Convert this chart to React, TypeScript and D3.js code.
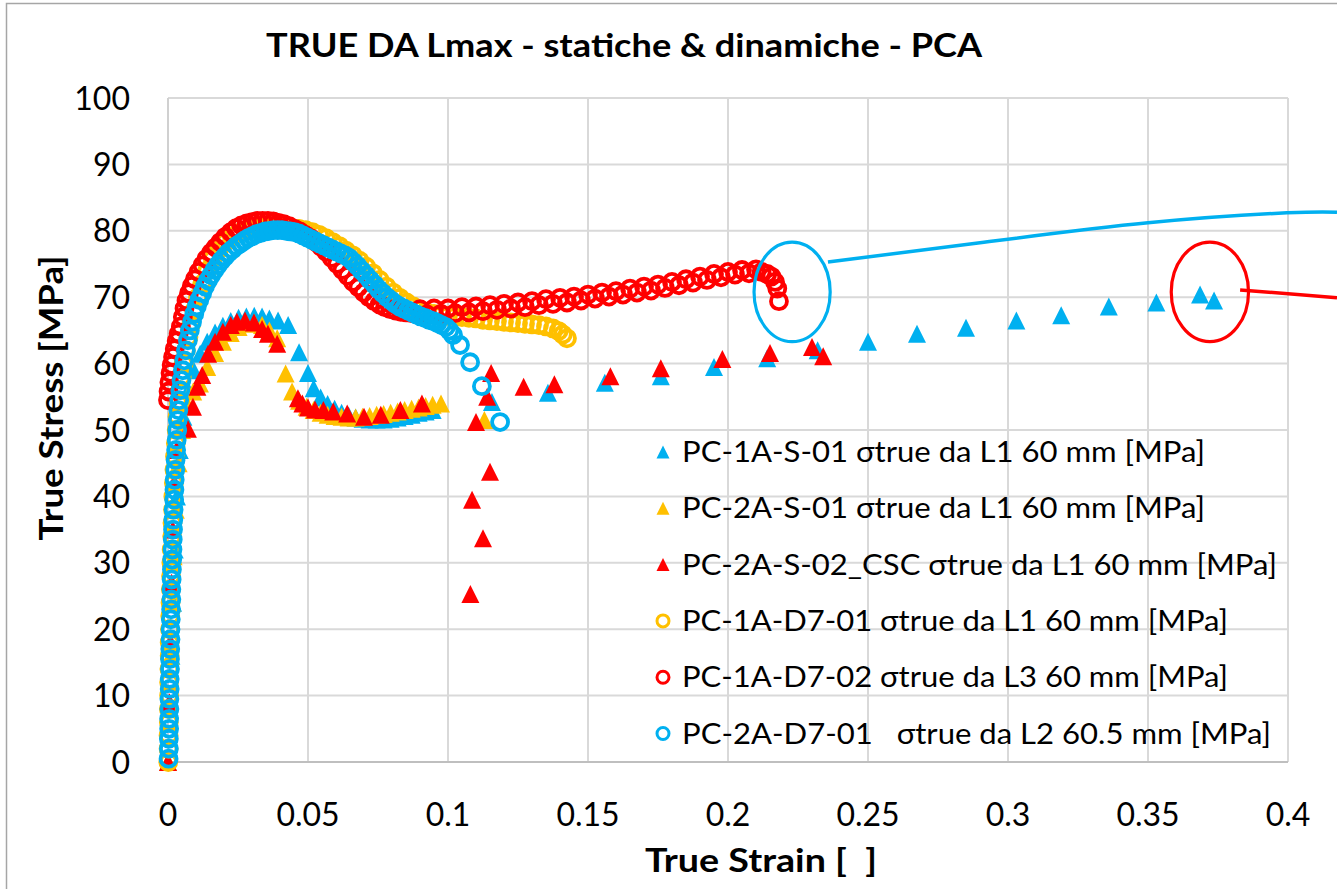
import React from 'react';
import * as d3 from 'd3';

const xTicks = [0, 0.05, 0.1, 0.15, 0.2, 0.25, 0.3, 0.35, 0.4];
const xTickLabels = ['0', '0.05', '0.1', '0.15', '0.2', '0.25', '0.3', '0.35', '0.4'];
const yTicks = [0, 10, 20, 30, 40, 50, 60, 70, 80, 90, 100];
const yTickLabels = ['0', '10', '20', '30', '40', '50', '60', '70', '80', '90', '100'];

// PC-1A-S-01 (static, blue triangles)
const s1: [number, number][] = [
  [0, 0], [0.0006, 8], [0.0012, 16], [0.0018, 24], [0.0024, 32], [0.0032, 40], [0.0042, 47], [0.0055, 52],
  [0.0072, 56], [0.0092, 59], [0.0115, 61.5], [0.014, 63.3], [0.0168, 64.7], [0.0196, 65.7], [0.0224, 66.4],
  [0.0252, 66.9], [0.028, 67.1], [0.0308, 67.2], [0.0336, 67.1], [0.0362, 66.8], [0.0393, 66.5], [0.0429, 65.8],
  [0.0468, 61.7], [0.05, 58.6], [0.052, 56.3], [0.0545, 54.9], [0.057, 53.9], [0.0595, 53.2], [0.062, 52.6],
  [0.0645, 52.2], [0.067, 51.9], [0.0695, 51.7], [0.072, 51.6], [0.0745, 51.6], [0.077, 51.6], [0.0795, 51.7],
  [0.082, 51.9], [0.0845, 52.1], [0.087, 52.3], [0.0895, 52.6], [0.092, 52.8], [0.0945, 53.0],
  [0.1157, 54.2], [0.1357, 55.6], [0.156, 57.1], [0.176, 58.1], [0.195, 59.5], [0.214, 60.8], [0.232, 62.0],
  [0.25, 63.3], [0.2675, 64.5], [0.285, 65.4], [0.303, 66.5], [0.319, 67.3], [0.336, 68.6], [0.353, 69.2],
  [0.3686, 70.4], [0.3736, 69.5],
];

// PC-2A-S-01 (static, gold triangles)
const s2: [number, number][] = [
  [0, 0], [0.0005, 8], [0.001, 16], [0.0015, 24], [0.002, 31], [0.0028, 38], [0.0038, 45], [0.005, 50],
  [0.0068, 54], [0.009, 55.8], [0.0114, 57], [0.014, 59.5], [0.0168, 61.6], [0.0196, 63.3], [0.0224, 64.6],
  [0.0252, 65.5], [0.028, 66.0], [0.0308, 66.1], [0.0336, 65.8], [0.0362, 65.0], [0.039, 63.8], [0.042, 58.5],
  [0.0443, 55.8], [0.0468, 54.4], [0.0495, 53.5], [0.052, 53.0], [0.0545, 52.6], [0.057, 52.3], [0.0595, 52.1],
  [0.062, 52.0], [0.0645, 51.9], [0.067, 51.9], [0.0695, 52.0], [0.072, 52.1], [0.0745, 52.3], [0.077, 52.4],
  [0.0795, 52.6], [0.082, 52.8], [0.0845, 53.0], [0.087, 53.2], [0.0895, 53.4], [0.092, 53.6], [0.0945, 53.8],
  [0.0975, 54.0], [0.113, 51.5],
];

// PC-2A-S-02_CSC (static, red triangles)
const s3: [number, number][] = [
  [0, 0], [0.0005, 9], [0.0009, 18], [0.0013, 27], [0.0017, 35], [0.0022, 42], [0.003, 47], [0.0071, 50.2],
  [0.0089, 53.5], [0.0105, 56.5], [0.0122, 58.3], [0.0143, 61.5], [0.0168, 63.3], [0.0196, 64.8], [0.0224, 65.8],
  [0.0246, 66.3], [0.0275, 66.5], [0.0307, 66.2], [0.0336, 65.2], [0.0357, 64.5], [0.039, 63.0], [0.0464, 54.8],
  [0.048, 54.0], [0.05, 53.4], [0.0525, 53.1], [0.0555, 53.0], [0.059, 52.8], [0.064, 52.5], [0.07, 52.0],
  [0.076, 52.3], [0.083, 53.0], [0.0907, 54.0],
  [0.1154, 58.6], [0.114, 55.0], [0.11, 51.2], [0.115, 43.7], [0.1086, 39.5], [0.1125, 33.7], [0.108, 25.3],
  [0.127, 56.5], [0.138, 56.9], [0.158, 58.1], [0.176, 59.3], [0.198, 60.7], [0.215, 61.6], [0.23, 62.5],
  [0.234, 61.1],
];

// PC-1A-D7-01 (dynamic, gold circles)
const d1: [number, number][] = [
  [0.0001, 0], [0.0002, 2], [0.0002, 4], [0.0003, 6], [0.0003, 8], [0.0004, 10], [0.0004, 12], [0.0005, 14],
  [0.0006, 16], [0.0006, 18], [0.0007, 20], [0.0008, 22], [0.0009, 24], [0.001, 26], [0.0011, 28], [0.0012, 30],
  [0.0013, 32], [0.0015, 34], [0.0016, 36], [0.0018, 38], [0.0019, 40], [0.0021, 42], [0.0023, 44], [0.0025, 46],
  [0.0028, 48], [0.0031, 50], [0.0034, 52], [0.0038, 54], [0.0043, 56], [0.0049, 58], [0.0056, 60], [0.0064, 62],
  [0.0073, 64], [0.0083, 66], [0.0094, 68], [0.0107, 70], [0.0122, 72], [0.014, 74], [0.016, 75.8], [0.0182, 77.2],
  [0.0205, 78.3], [0.0228, 79.1], [0.0252, 79.7], [0.0276, 80.1], [0.03, 80.3], [0.0324, 80.4], [0.0348, 80.5],
  [0.0372, 80.5], [0.0396, 80.5], [0.042, 80.5], [0.0444, 80.4], [0.0468, 80.3], [0.0492, 80.1], [0.0516, 79.8],
  [0.054, 79.4], [0.0564, 78.9], [0.0588, 78.3], [0.0612, 77.7], [0.0636, 77.0], [0.066, 76.3], [0.0684, 75.5],
  [0.0708, 74.6], [0.0732, 73.6], [0.0756, 72.6], [0.078, 71.6], [0.0804, 70.7], [0.0828, 69.9], [0.0852, 69.2],
  [0.0876, 68.6], [0.09, 68.1], [0.0925, 67.7], [0.095, 67.5], [0.0975, 67.3], [0.1, 67.2], [0.1025, 67.1],
  [0.105, 67.0], [0.1075, 66.9], [0.11, 66.8], [0.1125, 66.6], [0.115, 66.5], [0.1175, 66.4], [0.12, 66.3],
  [0.1225, 66.2], [0.125, 66.1], [0.1275, 66.0], [0.13, 65.9], [0.1325, 65.8], [0.135, 65.6], [0.1375, 65.3],
  [0.1395, 64.9], [0.141, 64.4], [0.1425, 63.8],
];

// PC-1A-D7-02 (dynamic, red circles)
const d2: [number, number][] = [
  [0, 54.5], [0.0002, 55.8], [0.0005, 57.2], [0.0009, 58.6], [0.0013, 59.8], [0.0018, 61], [0.0024, 62.2],
  [0.0031, 63.4], [0.0038, 64.5], [0.0046, 65.6], [0.0053, 67], [0.0059, 68.3], [0.0066, 69.5], [0.0075, 70.6],
  [0.0085, 71.7], [0.0096, 72.7], [0.0109, 73.8], [0.0123, 74.8], [0.0138, 75.8], [0.0154, 76.7], [0.017, 77.5],
  [0.0187, 78.3], [0.0205, 79.1], [0.0224, 79.8], [0.0243, 80.4], [0.0262, 80.8], [0.0281, 81.1], [0.03, 81.3],
  [0.0319, 81.5], [0.0338, 81.5], [0.0357, 81.5], [0.0376, 81.4], [0.0395, 81.2], [0.0414, 81.0], [0.0433, 80.7],
  [0.0452, 80.3], [0.0471, 79.9], [0.049, 79.4], [0.0509, 78.9], [0.0528, 78.3], [0.0547, 77.6], [0.0566, 76.8],
  [0.0585, 75.9], [0.0604, 75.0], [0.0623, 74.1], [0.0642, 73.2], [0.0661, 72.3], [0.068, 71.5], [0.0699, 70.7],
  [0.0718, 70.0], [0.0737, 69.4], [0.0756, 68.9], [0.0775, 68.5], [0.0794, 68.2], [0.0813, 68.0], [0.0832, 67.8],
  [0.0851, 67.7], [0.087, 67.6], [0.09, 68.2], [0.0925, 67.4], [0.095, 68.3], [0.0975, 67.5], [0.1, 68.3],
  [0.1025, 67.6], [0.105, 68.5], [0.1075, 67.7], [0.11, 68.6], [0.1125, 67.9], [0.115, 68.8], [0.1175, 68.1],
  [0.12, 69.0], [0.1225, 68.3], [0.125, 69.2], [0.1275, 68.5], [0.13, 69.4], [0.1325, 68.8], [0.135, 69.7],
  [0.1375, 69.0], [0.14, 69.9], [0.1425, 69.2], [0.145, 70.1], [0.1475, 69.5], [0.15, 70.4], [0.1525, 69.8],
  [0.155, 70.7], [0.1575, 70.1], [0.16, 70.9], [0.1625, 70.4], [0.165, 71.3], [0.1675, 70.7], [0.17, 71.6],
  [0.1725, 71.0], [0.175, 71.9], [0.1775, 71.4], [0.18, 72.3], [0.1825, 71.8], [0.185, 72.7], [0.1875, 72.2],
  [0.19, 73.1], [0.1925, 72.6], [0.195, 73.5], [0.1975, 73.0], [0.2, 73.8], [0.2025, 73.4], [0.205, 74.1],
  [0.2075, 73.6], [0.21, 74.2], [0.212, 73.8], [0.214, 73.5], [0.2155, 73.1], [0.2168, 72.3], [0.2176, 71.3],
  [0.2182, 69.4],
];

// PC-2A-D7-01 (dynamic, blue circles)
const d3s: [number, number][] = [
  [0.0002, 0.5], [0.0003, 2], [0.0003, 3.5], [0.0004, 5], [0.0004, 6.5], [0.0005, 8], [0.0005, 9.5], [0.0006, 11],
  [0.0006, 12.5], [0.0007, 14], [0.0007, 15.5], [0.0008, 17], [0.0009, 18.5], [0.0009, 20], [0.001, 21.5],
  [0.0011, 23], [0.0012, 24.5], [0.0012, 26], [0.0013, 27.5], [0.0014, 29], [0.0015, 30.5], [0.0016, 32],
  [0.0017, 33.5], [0.0018, 35], [0.0019, 36.5], [0.002, 38], [0.0022, 39.5], [0.0023, 41], [0.0024, 42.5],
  [0.0026, 44], [0.0027, 45.5], [0.0029, 47], [0.0031, 48.5], [0.0033, 50], [0.0035, 51.5], [0.0037, 53],
  [0.004, 54.5], [0.0044, 56], [0.0048, 57.5], [0.0053, 59], [0.0058, 60.5], [0.0064, 62], [0.0071, 63.5],
  [0.0078, 65], [0.0086, 66.3], [0.0094, 67.5], [0.0103, 68.6], [0.0112, 69.6], [0.0122, 70.6], [0.0132, 71.6],
  [0.0143, 72.5], [0.0154, 73.3], [0.0166, 74.1], [0.0178, 74.8], [0.019, 75.5], [0.0203, 76.1], [0.0216, 76.7],
  [0.023, 77.2], [0.0244, 77.7], [0.0258, 78.1], [0.0272, 78.5], [0.0287, 78.9], [0.0302, 79.2], [0.0317, 79.5],
  [0.0332, 79.7], [0.0347, 79.9], [0.0362, 80.0], [0.0377, 80.1], [0.0392, 80.1], [0.0407, 80.1], [0.0422, 80.0],
  [0.0437, 79.9], [0.0452, 79.8], [0.0467, 79.6], [0.0482, 79.3], [0.0497, 79.0], [0.0512, 78.7], [0.0527, 78.4],
  [0.0542, 78.1], [0.0557, 77.8], [0.0572, 77.5], [0.0587, 77.2], [0.0602, 76.9], [0.0617, 76.6], [0.0632, 76.3],
  [0.0647, 75.9], [0.0662, 75.3], [0.0677, 74.7], [0.0692, 74.0], [0.0707, 73.3], [0.0722, 72.6], [0.0737, 71.9],
  [0.0752, 71.2], [0.0767, 70.6], [0.0782, 70.0], [0.0797, 69.5], [0.0812, 69.0], [0.0827, 68.6], [0.0842, 68.3],
  [0.0857, 68.0], [0.0872, 67.7], [0.0887, 67.4], [0.0902, 67.1], [0.0917, 66.9], [0.0932, 66.6], [0.0947, 66.4],
  [0.0962, 66.1], [0.0977, 65.8], [0.0992, 65.5], [0.1005, 65.0], [0.1018, 64.3], [0.1043, 62.8], [0.1079, 60.2],
  [0.1121, 56.6], [0.1186, 51.2],
];

const seriesData = [s1, s2, s3, d1, d2, d3s];
const seriesNames = [
  'PC-1A-S-01 σtrue da L1 60 mm [MPa]',
  'PC-2A-S-01 σtrue da L1 60 mm [MPa]',
  'PC-2A-S-02_CSC σtrue da L1 60 mm [MPa]',
  'PC-1A-D7-01 σtrue da L1 60 mm [MPa]',
  'PC-1A-D7-02 σtrue da L3 60 mm [MPa]',
  'PC-2A-D7-01   σtrue da L2 60.5 mm [MPa]',
];
const seriesColors = ['#00B0F0', '#FFC000', '#FF0000', '#FFC000', '#FF0000', '#00B0F0'];
const seriesMarkers = ['tri', 'tri', 'tri', 'circ', 'circ', 'circ'];
const legendWidths = [523, 523, 595, 546, 546, 589];

// annotation shapes (data units)
const blueEllipse = { cx: 0.2229, cy: 70.8, rx: 0.0136, ry: 7.5 };
const redEllipse = { cx: 0.3721, cy: 70.8, rx: 0.0138, ry: 7.5 };
const blueCallout: [number, number][] = [[0.2357, 75.3], [0.29, 78.2], [0.35, 81.2], [0.3996, 82.7], [0.4175, 82.8]];
const redCallout: [number, number][] = [[0.3829, 71.1], [0.4175, 69.9]];

const FONT = 'Lato, "Open Sans", "DejaVu Sans", sans-serif';

const triPath = (s: number) => `M0,${-s / 2}L${s / 2},${s / 2}L${-s / 2},${s / 2}Z`;

export default function App() {
  const W = 1337;
  const H = 889;
  const x = d3.scaleLinear().domain([0, 0.4]).range([168, 1288]);
  const y = d3.scaleLinear().domain([0, 100]).range([762, 98]);
  const [x0, x1] = x.range();
  const [y0, y1] = y.range();

  const calloutLine = d3.line<[number, number]>().x((d) => x(d[0])).y((d) => y(d[1])).curve(d3.curveNatural);
  const straight = d3.line<[number, number]>().x((d) => x(d[0])).y((d) => y(d[1]));

  const legendX = 663;
  const legendTextX = 682;
  const legendBase0 = 462;
  const legendStep = 56.3;

  return (
    <svg width={W} height={H} style={{ position: 'absolute', left: 0, top: 0, background: '#fff' }} fontFamily={FONT}>
      <rect x={0} y={0} width={W} height={H} fill="#fff" />
      <rect x={6.5} y={3.5} width={W + 50} height={H + 50} fill="none" stroke="#A6A6A6" strokeWidth={1.5} />

      {/* gridlines */}
      {yTicks.map((t) => (
        <line key={'gy' + t} x1={x0} x2={x1} y1={y(t)} y2={y(t)} stroke="#D9D9D9" strokeWidth={2} />
      ))}
      {xTicks.map((t) => (
        <line key={'gx' + t} x1={x(t)} x2={x(t)} y1={y0} y2={y1} stroke="#D9D9D9" strokeWidth={2} />
      ))}
      <line x1={x0} x2={x1} y1={y(0)} y2={y(0)} stroke="#BFBFBF" strokeWidth={2} />
      <line x1={x(0)} x2={x(0)} y1={y0} y2={y1} stroke="#D0D0D0" strokeWidth={2} />

      {/* tick labels */}
      {yTicks.map((t, i) => (
        <text key={'ty' + t} x={130} y={y(t)} dy="0.36em" textAnchor="end" fontSize={32} fill="#000">
          {yTickLabels[i]}
        </text>
      ))}
      {xTicks.map((t, i) => (
        <text key={'tx' + t} x={x(t)} y={826} textAnchor="middle" fontSize={32} fill="#000">
          {xTickLabels[i]}
        </text>
      ))}

      {/* series */}
      {seriesData.map((data, si) => (
        <g key={'s' + si}>
          {data.map((d, i) =>
            seriesMarkers[si] === 'tri' ? (
              <path key={i} d={triPath(18)} transform={`translate(${x(d[0])},${y(d[1])})`} fill={seriesColors[si]} />
            ) : (
              <circle key={i} cx={x(d[0])} cy={y(d[1])} r={8} fill="none" stroke={seriesColors[si]} strokeWidth={3.8} />
            )
          )}
        </g>
      ))}

      {/* legend */}
      {seriesNames.map((name, i) => {
        const by = legendBase0 + i * legendStep;
        const my = by - 10;
        return (
          <g key={'lg' + i}>
            {seriesMarkers[i] === 'tri' ? (
              <path d={triPath(13)} transform={`translate(${legendX},${my})`} fill={seriesColors[i]} />
            ) : (
              <circle cx={legendX} cy={my} r={6} fill="none" stroke={seriesColors[i]} strokeWidth={3} />
            )}
            <text
              x={legendTextX}
              y={by}
              fontSize={29}
              fill="#000"
              xmlSpace="preserve"
              style={{ whiteSpace: 'pre' }}
              textLength={legendWidths[i]}
              lengthAdjust="spacingAndGlyphs"
            >
              {name}
            </text>
          </g>
        );
      })}

      {/* titles */}
      <text x={624} y={57} textAnchor="middle" fontSize={32} fontWeight="bold" textLength={716} lengthAdjust="spacingAndGlyphs">
        TRUE DA Lmax - statiche &amp; dinamiche - PCA
      </text>
      <text x={761} y={872} textAnchor="middle" fontSize={32} fontWeight="bold" xmlSpace="preserve" style={{ whiteSpace: 'pre' }} textLength={232} lengthAdjust="spacingAndGlyphs">
        {'True Strain [  ]'}
      </text>
      <text
        transform={`translate(63,398) rotate(-90)`}
        textAnchor="middle"
        fontSize={32}
        fontWeight="bold"
        textLength={285}
        lengthAdjust="spacingAndGlyphs"
      >
        True Stress [MPa]
      </text>

      {/* annotations */}
      <ellipse
        cx={x(blueEllipse.cx)}
        cy={y(blueEllipse.cy)}
        rx={x(blueEllipse.cx + blueEllipse.rx) - x(blueEllipse.cx)}
        ry={y(blueEllipse.cy) - y(blueEllipse.cy + blueEllipse.ry)}
        fill="none"
        stroke="#00B0F0"
        strokeWidth={3.2}
      />
      <path d={calloutLine(blueCallout) || ''} fill="none" stroke="#00B0F0" strokeWidth={3.5} />
      <ellipse
        cx={x(redEllipse.cx)}
        cy={y(redEllipse.cy)}
        rx={x(redEllipse.cx + redEllipse.rx) - x(redEllipse.cx)}
        ry={y(redEllipse.cy) - y(redEllipse.cy + redEllipse.ry)}
        fill="none"
        stroke="#FF0000"
        strokeWidth={3.2}
      />
      <path d={straight(redCallout) || ''} fill="none" stroke="#FF0000" strokeWidth={3.5} />
    </svg>
  );
}
